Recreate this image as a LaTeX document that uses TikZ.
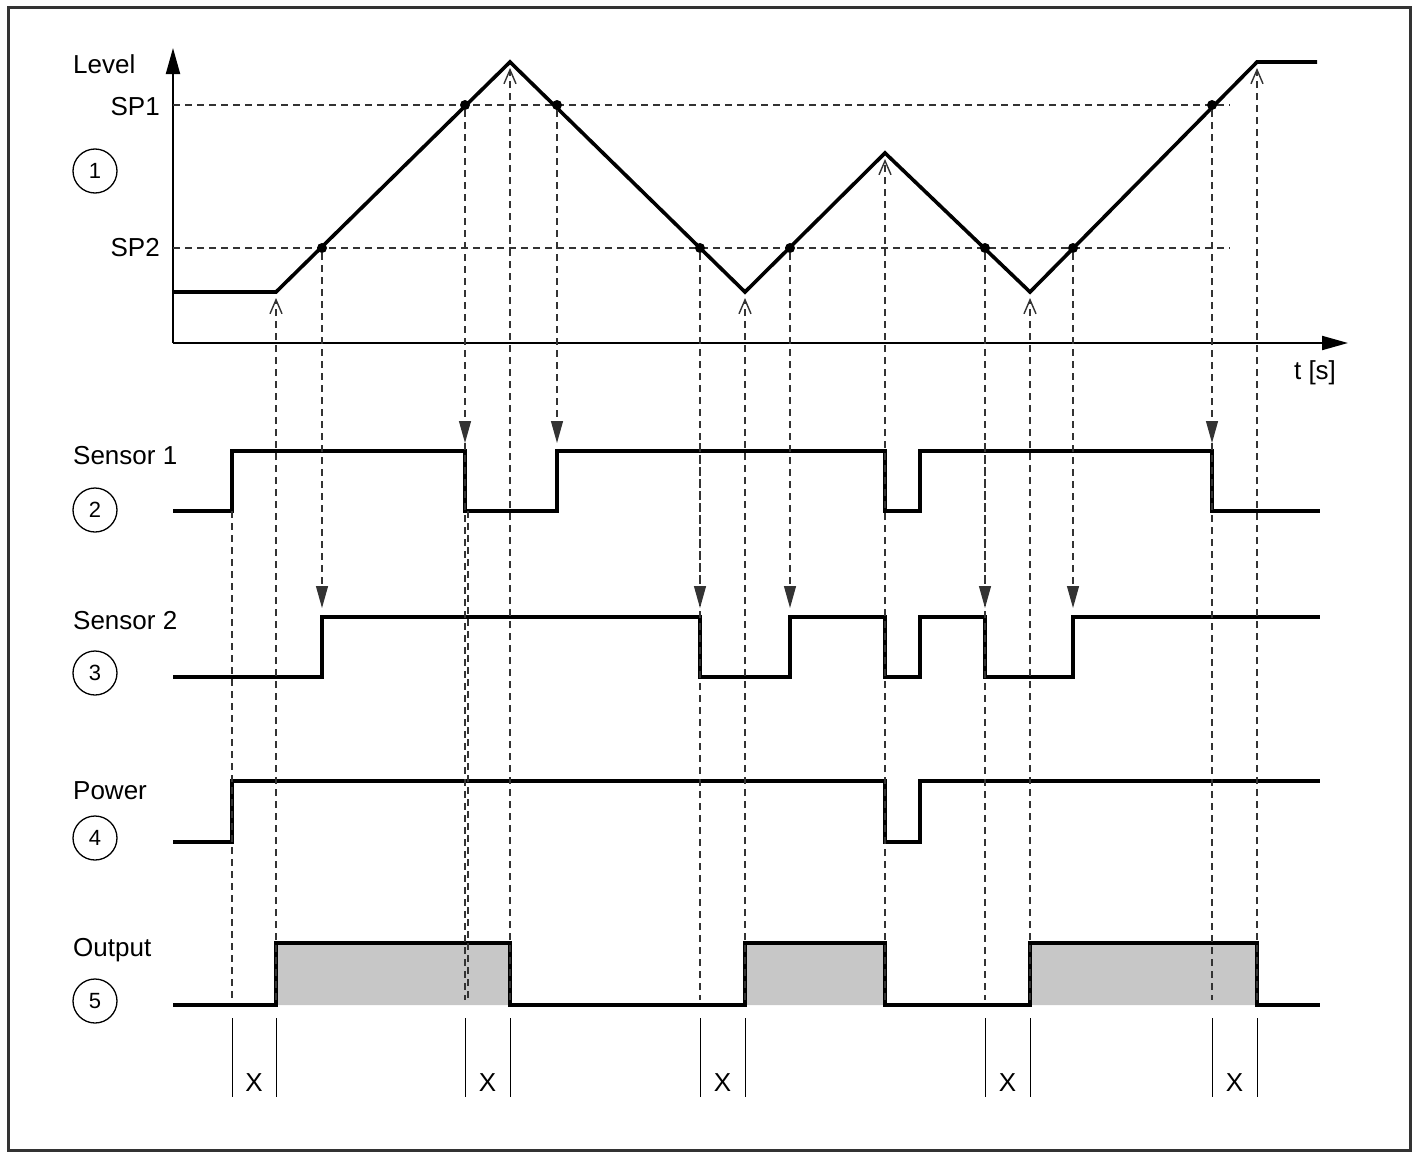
\documentclass[tikz,border=0pt]{standalone}
\usepackage{fontspec}
\setmainfont{Liberation Sans}
\usetikzlibrary{arrows.meta}
\begin{document}
\begin{tikzpicture}[x=1pt,y=-1pt,
  sig/.style={line width=3.6pt,line join=miter},
  dsh/.style={line width=1.2pt,dash pattern=on 7pt off 5pt,draw=black!80},
  upar/.style={dsh,-{Straight Barb[length=14pt,width=12pt,line width=1.4pt]}},
  dnar/.style={dsh,-{Triangle[length=22pt,width=12pt]}},
  lbl/.style={font=\fontsize{26}{30}\selectfont,inner sep=0pt},
  num/.style={draw,circle,line width=1.3pt,minimum size=44pt,inner sep=0pt,font=\fontsize{22}{26}\selectfont},
  dot/.style={circle,fill,inner sep=0pt,minimum size=10pt},
  brk/.style={line width=1pt}]
\useasboundingbox (0,0) rectangle (1415,1156);
\draw[line width=3pt,draw=black!80] (8,8) rectangle (1410,1150);
% axes
\coordinate (O) at (173,343);
\draw[line width=2pt,-{Triangle[length=26pt,width=14pt]}] (O) -- (173,48);
\draw[line width=2pt,-{Triangle[length=26pt,width=14pt]}] (O) -- (1348,343);
\node[lbl,anchor=west] (lev) at (73,64) {Level};
\node[lbl,anchor=east] (sp1) at (160,107) {SP1};
\node[lbl,anchor=east] (sp2) at (160,248) {SP2};
\node[lbl] (ts) at (1315,373) {t [s]};
\draw[dsh] (173,105) -- (1230,105);
\draw[dsh] (173,248) -- (1230,248);
% level
\draw[sig] (173,292) -- (276,292) -- (510,62) -- (745,292) -- (885,153) -- (1030,292) -- (1257,62) -- (1317,62);
\foreach \n/\x/\y in {a/322/248,b/465/105,c/557/105,d/700/248,e/790/248,f/985/248,g/1073/248,h/1212/105}
  \node[dot] (\n) at (\x,\y) {};
% labels
\foreach \n/\y in {1/171,2/510,3/673,4/838,5/1001}
  \node[num] (c\n) at (95,\y) {\n};
\node[lbl,anchor=west] (s1) at (73,456) {Sensor 1};
\node[lbl,anchor=west] (s2) at (73,621) {Sensor 2};
\node[lbl,anchor=west] (pw) at (73,791) {Power};
\node[lbl,anchor=west] (op) at (73,950) {Output};
% output fill
\fill[black!22] (276,1005) rectangle (510,943) (745,1005) rectangle (885,943) (1030,1005) rectangle (1257,943);
% signals
\draw[sig] (173,511) -- (232,511) -- (232,451) -- (465,451) -- (465,511) -- (557,511) -- (557,451) -- (885,451) -- (885,511) -- (920,511) -- (920,451) -- (1212,451) -- (1212,511) -- (1320,511);
\draw[sig] (173,677) -- (322,677) -- (322,617) -- (700,617) -- (700,677) -- (790,677) -- (790,617) -- (885,617) -- (885,677) -- (920,677) -- (920,617) -- (985,617) -- (985,677) -- (1073,677) -- (1073,617) -- (1320,617);
\draw[sig] (173,842) -- (232,842) -- (232,781) -- (885,781) -- (885,842) -- (920,842) -- (920,781) -- (1320,781);
\draw[sig] (173,1005) -- (276,1005) -- (276,943) -- (510,943) -- (510,1005) -- (745,1005) -- (745,943) -- (885,943) -- (885,1005) -- (1030,1005) -- (1030,943) -- (1257,943) -- (1257,1005) -- (1320,1005);
% dashed down arrows
\foreach \n/\x in {b/465,c/557,h/1212} \draw[dnar] (\n) -- (\x,443);
\foreach \n/\x in {a/322,d/700,e/790,f/985,g/1073} \draw[dnar] (\n) -- (\x,608);
% dashed continuations
\draw[dsh] (232,511) -- (232,1000);
\foreach \x in {465,700,985,1212} \draw[dsh] (\x,443) -- (\x,1000);
\draw[dsh] (468,511) -- (468,1000);
% up arrows
\foreach \x/\y in {276/298,510/68,745/298,885/159,1030/298,1257/68}
  \draw[upar] (\x,1000) -- (\x,\y);
% brackets
\foreach \a/\b in {232/276,465/510,700/745,985/1030,1212/1257}{
  \draw[brk] (\a,1018) -- (\a,1097);
  \draw[brk] (\b,1018) -- (\b,1097);
  \node[lbl] at ({(\a+\b)/2},1083) {X};}
\end{tikzpicture}
\end{document}
